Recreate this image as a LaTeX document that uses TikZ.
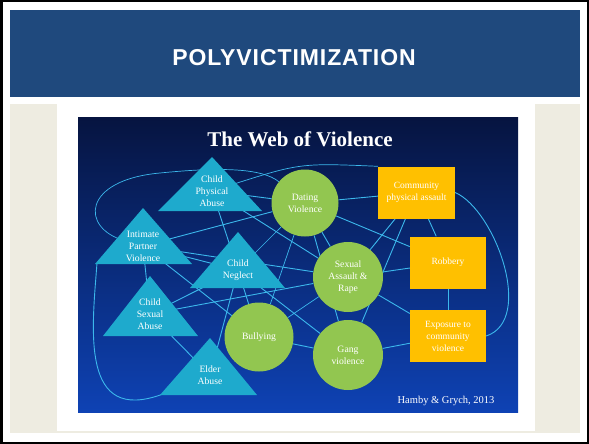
\documentclass[tikz,border=0pt]{standalone}
\usepackage{fontspec}
\setmainfont{Liberation Serif}
\newfontfamily\headfont{Liberation Sans}
\usetikzlibrary{calc}
\pgfdeclarelayer{bg}
\pgfdeclarelayer{lines}
\pgfsetlayers{bg,lines,main}
\definecolor{barblue}{RGB}{31,73,125}
\definecolor{beige}{RGB}{238,236,225}
\definecolor{tricyan}{RGB}{30,170,205}
\definecolor{circgreen}{RGB}{146,198,80}
\definecolor{boxyellow}{RGB}{255,192,0}
\definecolor{webline}{RGB}{60,184,236}
\definecolor{navytop}{RGB}{6,20,64}
\definecolor{navymid}{RGB}{10,50,148}
\definecolor{navybot}{RGB}{14,66,180}
\begin{document}
\begin{tikzpicture}[x=1pt,y=-1pt,
  lbl/.style={text=white,font=\fontsize{9.7}{12}\selectfont,align=center,inner sep=1pt},
  circ/.style={circle,fill=circgreen,inner sep=0pt,text=white,font=\fontsize{9.7}{12}\selectfont,align=center},
  ybox/.style={rectangle,fill=boxyellow,minimum width=77pt,minimum height=52pt,inner sep=1pt,text=white,font=\fontsize{9.5}{12}\selectfont,align=center},
  tri/.style={fill=tricyan},
  web/.style={draw=webline,line width=0.9pt},
  thinweb/.style={draw=webline,line width=0.7pt}]
\useasboundingbox (0,0) rectangle (589,444);
\begin{pgfonlayer}{bg}
  \fill[white] (0,0) rectangle (589,444);
  \fill[beige] (10,104) rectangle (580,433);
  \fill[white] (57,104) rectangle (535,431);
  \fill[barblue] (10,10) rectangle (580,97);
  \shade[top color=navytop,middle color=navymid,bottom color=navybot] (78,117) rectangle (518,412);
  \draw[black,line width=2.5pt] (1.25,1.25) rectangle (587.75,442.75);
\end{pgfonlayer}

\node[text=white,font=\headfont\bfseries\fontsize{23}{26}\selectfont\addfontfeature{LetterSpace=4}] (title) at (294,58) {POLYVICTIMIZATION};
\node[text=white,font=\bfseries\fontsize{21}{24}\selectfont] (webtitle) at (300,139) {The Web of Violence};

% triangles
\fill[tri] (212,157) -- (262,211) -- (158,211) -- cycle;
\node[lbl] (cpa) at (212,191) {Child\\Physical\\Abuse};
\fill[tri] (143,208) -- (192,264) -- (95,264) -- cycle;
\node[lbl] (ipv) at (143,246) {Intimate\\Partner\\Violence};
\fill[tri] (238,232) -- (285,288) -- (190,288) -- cycle;
\node[lbl] (cn) at (238,270) {Child\\Neglect};
\fill[tri] (150,276) -- (198,336) -- (103,336) -- cycle;
\node[lbl] (csa) at (150,314) {Child\\Sexual\\Abuse};
\fill[tri] (210,338) -- (257,395) -- (160,395) -- cycle;
\node[lbl] (ea) at (210,375) {Elder\\Abuse};
\coordinate (ipvbl) at (97,263);
\coordinate (eabl) at (163,394);

% circles
\node[circ,minimum size=67pt] (dv) at (305,203) {Dating\\Violence};
\node[circ,minimum size=70pt] (sar) at (348,277) {Sexual\\Assault \&\\Rape};
\node[circ,minimum size=69pt] (bul) at (259,337) {Bullying};
\node[circ,minimum size=70pt] (gang) at (348,355) {Gang\\violence};

% boxes
\node[ybox] (comm) at (416.5,192.5) {Community\\physical assault};
\node[ybox,minimum width=76pt] (rob) at (448,262.5) {Robbery};
\node[ybox,minimum width=76pt] (expo) at (448,336) {Exposure to\\community\\violence};

\node[text=white,font=\fontsize{10.5}{12}\selectfont] (cite) at (446,401) {Hamby \& Grych, 2013};

\begin{pgfonlayer}{lines}
  \draw[web] (cpa) -- (dv);
  \draw[web] (ipv) -- (dv);
  \draw[web] (ipv) -- (sar);
  \draw[web] (ipv) -- (cn);
  \draw[web] (ipv) -- (bul);
  \draw[web] (cpa) -- (sar);
  \draw[web] (cpa) -- (cn);
  \draw[web] (csa) -- (sar);
  \draw[web] (csa) -- (cn);
  \draw[web] (csa) -- (ea);
  \draw[web] (ipv) -- (csa);
  \draw[web] (ea) -- (cn);
  \draw[web] (cn) -- (bul);
  \draw[thinweb] (cn) -- (dv);
  \draw[web] (cn) -- (gang);
  \draw[web] (bul) -- (gang);
  \draw[thinweb] (bul) -- (sar);
  \draw[thinweb] (bul) -- (dv);
  \draw[web] (dv) -- (sar);
  \draw[web] (dv) -- (gang);
  \draw[web] (dv) -- (comm);
  \draw[web] (dv) -- (rob);
  \draw[web] (sar) -- (rob);
  \draw[web] (sar) -- (expo);
  \draw[web] (sar) -- (comm);
  \draw[web] (comm) -- (gang);
  \draw[web] (gang) -- (expo);
  \draw[web] (comm) -- (rob);
  \draw[web] (rob) -- (expo);
  \draw[thinweb] (cpa) .. controls (300,163) .. (comm.north west);
  \draw[thinweb] (ipv) .. controls (80,228) and (82,180) .. (160,173) .. controls (220,167) and (262,168) .. (dv);
  \draw[web] (comm.east) .. controls (495,210) and (535,320) .. (expo.east);
  \draw[web] (ipvbl) .. controls (92,330) and (80,425) .. (eabl);
\end{pgfonlayer}
\end{tikzpicture}
\end{document}
